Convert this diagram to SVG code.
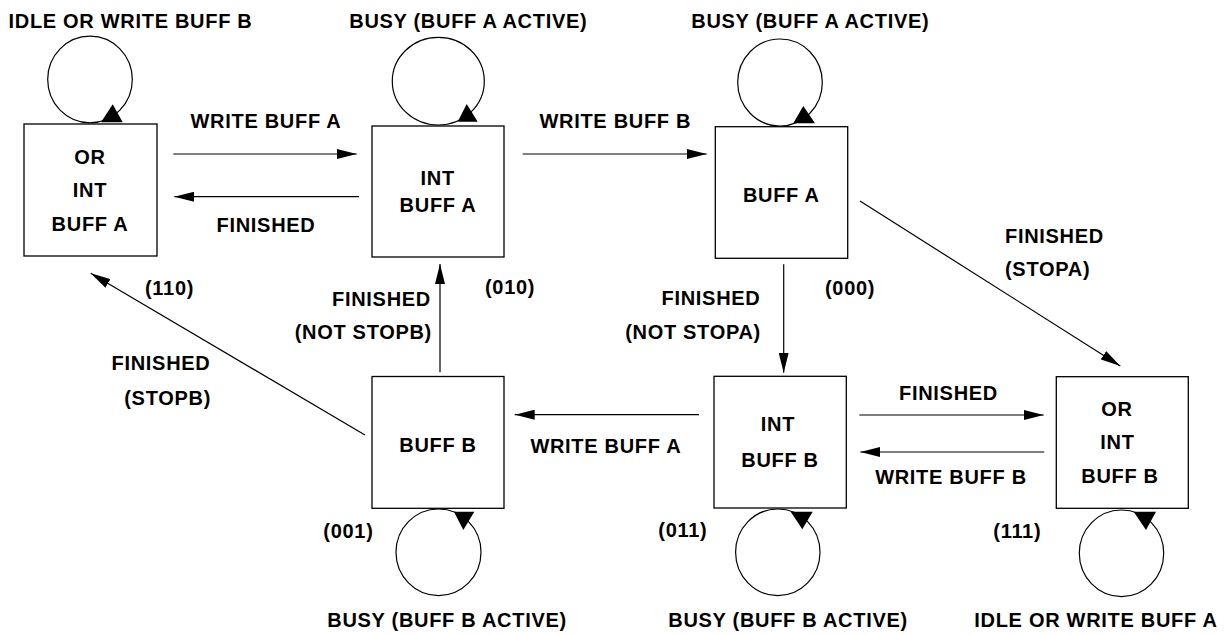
<svg xmlns="http://www.w3.org/2000/svg" width="1231" height="634" viewBox="0 0 1231 634">
<style>
text{font-family:"Liberation Sans",Arial,Helvetica,sans-serif;font-weight:bold;font-size:20px;letter-spacing:0.7px;fill:#000}
.m{text-anchor:middle}
.e{text-anchor:end}
.box{fill:#fff;stroke:#000;stroke-width:1.3}
.loop{fill:none;stroke:#000;stroke-width:1.2}
.tri{fill:#000;stroke:none}
.edge{fill:none;stroke:#000;stroke-width:1.2;marker-end:url(#ah)}
</style>
<defs>
<marker id="ah" markerUnits="userSpaceOnUse" markerWidth="20" markerHeight="10" refX="20" refY="5" orient="auto" viewBox="0 0 20 10">
<path d="M0,0 L20,5 L0,10 Z" fill="#000"/>
</marker>
</defs>
<rect width="1231" height="634" fill="#fff"/>

<g id="connectors">
<line class="edge" x1="173.3" y1="154" x2="356.7" y2="154"/>
<line class="edge" x1="359" y1="196.7" x2="174.3" y2="196.7"/>
<line class="edge" x1="522.7" y1="154" x2="706.7" y2="154"/>
<line class="edge" x1="783.7" y1="264.3" x2="783.7" y2="372.7"/>
<line class="edge" x1="860" y1="201" x2="1120.3" y2="366"/>
<line class="edge" x1="859.3" y1="415" x2="1043.7" y2="415"/>
<line class="edge" x1="1044.3" y1="452" x2="860.3" y2="452"/>
<line class="edge" x1="699" y1="414.7" x2="514.7" y2="414.7"/>
<line class="edge" x1="440" y1="372.3" x2="440" y2="264"/>
<line class="edge" x1="365" y1="435" x2="90.7" y2="273.3"/>
<text class="m" x="266" y="128">WRITE BUFF A</text>
<text class="m" x="266" y="232">FINISHED</text>
<text class="m" x="615.3" y="128">WRITE BUFF B</text>
<text x="1005" y="243">FINISHED</text>
<text x="1005" y="276">(STOPA)</text>
<text class="e" x="431" y="305.5">FINISHED</text>
<text class="e" x="432" y="338.5">(NOT STOPB)</text>
<text class="e" x="760.5" y="305">FINISHED</text>
<text class="e" x="761" y="339">(NOT STOPA)</text>
<text class="e" x="210.5" y="370">FINISHED</text>
<text class="e" x="211" y="405">(STOPB)</text>
<text class="m" x="948.5" y="400">FINISHED</text>
<text x="530.4" y="452.5">WRITE BUFF A</text>
<text class="m" x="951" y="484">WRITE BUFF B</text>
</g>

<g id="node-110">
<ellipse class="loop" cx="90" cy="79.5" rx="42.3" ry="43.3"/>
<path class="tri" d="M112.7,104.3 L122.7,122.3 L101,122.3 Z"/>
<rect class="box" x="24" y="124" width="133" height="132"/>
<text class="m" x="90" y="164">OR</text>
<text class="m" x="90" y="197">INT</text>
<text class="m" x="90" y="231">BUFF A</text>
<text class="m" x="130.5" y="28">IDLE OR WRITE BUFF B</text>
<text x="145" y="295">(110)</text>
</g>

<g id="node-010">
<ellipse class="loop" cx="438.3" cy="81.2" rx="46" ry="43.8"/>
<path class="tri" d="M466.7,104 L477.7,121.7 L457.7,121.7 Z"/>
<rect class="box" x="372" y="126" width="132" height="131"/>
<text class="m" x="437.7" y="185">INT</text>
<text class="m" x="438" y="212">BUFF A</text>
<text class="m" x="468.3" y="28">BUSY (BUFF A ACTIVE)</text>
<text x="485" y="294">(010)</text>
</g>

<g id="node-000">
<ellipse class="loop" cx="780" cy="82.5" rx="42.3" ry="43.5"/>
<path class="tri" d="M803.3,106 L815,123.3 L793.3,123.3 Z"/>
<rect class="box" x="715.3" y="126.7" width="132.4" height="131.6"/>
<text class="m" x="781.3" y="202">BUFF A</text>
<text class="m" x="810.3" y="28">BUSY (BUFF A ACTIVE)</text>
<text x="825" y="295">(000)</text>
</g>

<g id="node-001">
<ellipse class="loop" cx="438.5" cy="552.3" rx="42.5" ry="43.3"/>
<path class="tri" d="M454,511.7 L474.3,511.7 L463.3,530 Z"/>
<rect class="box" x="372" y="376.5" width="132" height="131.8"/>
<text class="m" x="438" y="452">BUFF B</text>
<text x="323.3" y="537.5">(001)</text>
<text x="327.3" y="627">BUSY (BUFF B ACTIVE)</text>
</g>

<g id="node-011">
<ellipse class="loop" cx="777.8" cy="552.3" rx="42.2" ry="43.3"/>
<path class="tri" d="M790.7,511.7 L812.7,511.7 L802.3,529.3 Z"/>
<rect class="box" x="714" y="376.3" width="132.3" height="131.7"/>
<text class="m" x="778" y="431">INT</text>
<text class="m" x="780" y="467">BUFF B</text>
<text x="658.3" y="537">(011)</text>
<text x="668.3" y="627">BUSY (BUFF B ACTIVE)</text>
</g>

<g id="node-111">
<ellipse class="loop" cx="1121.5" cy="553.3" rx="42.2" ry="43.3"/>
<path class="tri" d="M1133.7,511.7 L1156,511.7 L1146,530 Z"/>
<rect class="box" x="1056.3" y="376.7" width="132" height="131.6"/>
<text class="m" x="1117" y="416">OR</text>
<text class="m" x="1117.5" y="449">INT</text>
<text class="m" x="1120" y="483">BUFF B</text>
<text x="993.3" y="537.5">(111)</text>
<text x="974.3" y="627">IDLE OR WRITE BUFF A</text>
</g>
</svg>
